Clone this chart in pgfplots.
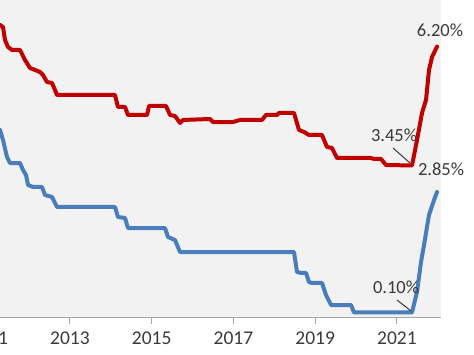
\documentclass[border=0pt]{standalone}
\usepackage{pgfplots}
\pgfplotsset{compat=1.18}
\usepackage{fontspec}
\setmainfont{Carlito}
\definecolor{bgc}{HTML}{F2F2F2}
\definecolor{redc}{HTML}{C00000}
\definecolor{bluec}{HTML}{4A7EBB}
\definecolor{axc}{HTML}{A6A6A6}
\definecolor{txt}{HTML}{3A3A3A}
\begin{document}
\begin{tikzpicture}
\useasboundingbox (0,0) rectangle (474pt,355pt);
\clip (0,0) rectangle (474pt,355pt);
% red series axis
\begin{axis}[name=ra, at={(-11.8pt,37pt)}, anchor=south west,
  width=452.8pt, height=318pt, scale only axis,
  xmin=2011, xmax=2022.0775, ymin=-1.446, ymax=7.512,
  axis background/.style={fill=bgc},
  axis x line*=bottom, axis y line=none,
  x axis line style={draw=axc, line width=1pt, -},
  xtick={2011,2013,2015,2017,2019,2021},
  xticklabels={2011,2013,2015,2017,2019,2021},
  tick align=outside, major tick length=6pt,
  xtick style={draw=axc, line width=1pt},
  xticklabel style={font=\fontsize{19.5}{23}\selectfont, text=txt, inner sep=0pt, yshift=-7.5pt},
  clip=false]
\addplot[redc, line width=4pt, line join=round, line cap=round] coordinates {
(2011.289,6.808) (2011.362,6.751) (2011.411,6.385) (2011.484,6.188)
(2011.582,6.104) (2011.778,6.104) (2011.900,5.822) (2012.023,5.596)
(2012.145,5.540) (2012.267,5.484) (2012.341,5.399) (2012.438,5.202)
(2012.561,5.174) (2012.634,4.977) (2012.683,4.836) (2014.102,4.836)
(2014.175,4.498) (2014.347,4.498) (2014.420,4.273) (2014.885,4.273)
(2014.934,4.526) (2015.350,4.526) (2015.448,4.273) (2015.570,4.244)
(2015.692,4.047) (2015.766,4.132) (2016.426,4.160) (2016.499,4.075)
(2016.989,4.075) (2017.160,4.132) (2017.698,4.132) (2017.796,4.273)
(2018.065,4.273) (2018.114,4.329) (2018.481,4.329) (2018.604,3.850)
(2018.726,3.794) (2018.848,3.709) (2019.166,3.709) (2019.289,3.371)
(2019.411,3.343) (2019.533,3.061) (2020.365,3.061) (2020.438,3.033)
(2020.610,3.033) (2020.732,2.864) (2021.368,2.85) (2021.491,3.568)
(2021.613,4.329) (2021.711,4.695) (2021.784,5.540) (2021.858,5.906)
(2021.980,6.20)};
\draw[txt, line width=1pt] (axis cs:2020.903,3.343) -- (axis cs:2021.319,2.920);
\node[text=txt, font=\fontsize{18.5}{22}\selectfont] at (axis cs:2020.928,3.709) {3.45\%};
\node[text=txt, font=\fontsize{18.5}{22}\selectfont] at (axis cs:2022.078,2.75) {2.85\%};
\node[text=txt, font=\fontsize{18.5}{22}\selectfont] at (axis cs:2022.053,6.667) {6.20\%};
\end{axis}
% blue series axis
\begin{axis}[at={(-11.8pt,37pt)}, anchor=south west,
  width=452.8pt, height=318pt, scale only axis,
  xmin=2011, xmax=2022.0775, ymin=-0.055, ymax=8.903,
  hide axis, clip=false]
\addplot[bluec, line width=4pt, line join=round, line cap=round] coordinates {
(2011.289,5.241) (2011.362,4.959) (2011.460,4.480) (2011.533,4.311)
(2011.778,4.311) (2011.851,4.114) (2011.925,3.973) (2011.974,3.692)
(2012.096,3.635) (2012.316,3.635) (2012.389,3.410) (2012.561,3.354)
(2012.683,3.072) (2014.102,3.072) (2014.175,2.790) (2014.347,2.762)
(2014.420,2.480) (2015.325,2.480) (2015.399,2.227) (2015.570,2.142)
(2015.692,1.804) (2018.481,1.804) (2018.555,1.241) (2018.653,1.213)
(2018.775,1.213) (2018.848,0.959) (2018.922,0.931) (2019.166,0.931)
(2019.264,0.593) (2019.387,0.311) (2019.876,0.311) (2019.949,0.10)
(2021.368,0.10) (2021.491,0.677) (2021.589,1.523) (2021.662,2.001)
(2021.784,2.846) (2021.907,3.269) (2021.980,3.494)};
\draw[txt, line width=1pt] (axis cs:2021.001,0.452) -- (axis cs:2021.344,0.142);
\node[text=txt, font=\fontsize{18.5}{22}\selectfont] at (axis cs:2020.977,0.818) {0.10\%};
\end{axis}
\end{tikzpicture}
\end{document}
